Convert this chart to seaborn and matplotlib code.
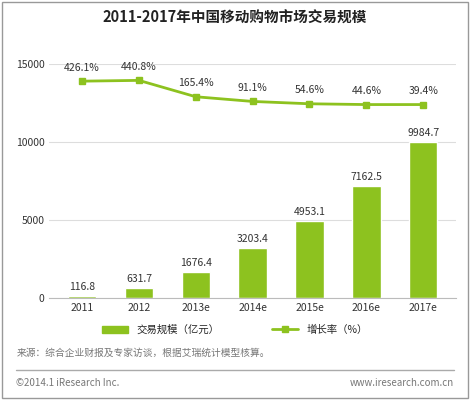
import matplotlib
matplotlib.use("Agg")
import matplotlib.pyplot as plt
import seaborn as sns
import pandas as pd
from matplotlib.lines import Line2D
from matplotlib.patches import Patch

years = ["2011", "2012", "2013e", "2014e", "2015e", "2016e", "2017e"]
scale = [116.8, 631.7, 1676.4, 3203.4, 4953.1, 7162.5, 9984.7]
growth = [426.1, 440.8, 165.4, 91.1, 54.6, 44.6, 39.4]
# approx. visual position of the growth line on the left axis
growth_pos = [13900, 13950, 12900, 12600, 12450, 12400, 12400]

sns.set_style("white")
plt.rcParams['font.family'] = ['Noto Sans CJK SC', 'DejaVu Sans']
green = "#8dc21f"

fig = plt.figure(figsize=(4.7, 4.0), dpi=100)
fig.patches.append(plt.Rectangle((0.005, 0.005), 0.99, 0.99, transform=fig.transFigure,
                                 fill=False, edgecolor="#999999", lw=1))
ax = fig.add_axes([0.105, 0.255, 0.865, 0.585])
df = pd.DataFrame({"year": years, "scale": scale})
sns.barplot(data=df, x="year", y="scale", color=green, width=0.5, ax=ax, saturation=1)
ax.plot(range(len(years)), growth_pos, color=green, lw=2, marker="s", markersize=5)
for i, (v, g, p) in enumerate(zip(scale, growth, growth_pos)):
    ax.text(i, v + 250, f"{v}", ha="center", va="bottom", fontsize=7.5, color="#333333")
    ax.text(i, p + 550, f"{g}%", ha="center", va="bottom", fontsize=7.5, color="#333333")
ax.set_ylim(0, 15000)
ax.set_yticks([0, 5000, 10000, 15000])
ax.yaxis.grid(True, color="#dddddd", lw=0.8)
ax.set_axisbelow(True)
for s in ["top", "right", "left"]:
    ax.spines[s].set_visible(False)
ax.spines["bottom"].set_color("#bbbbbb")
ax.set_xlabel("")
ax.set_ylabel("")
ax.tick_params(axis="both", labelsize=7.5, colors="#333333", length=0)

fig.text(0.5, 0.955, "2011-2017年中国移动购物市场交易规模", ha="center", va="center",
         fontsize=10.5, fontweight="bold", color="#222222")
handles = [Patch(color=green), Line2D([], [], color=green, lw=2, marker="s", markersize=5)]
fig.legend(handles, ["交易规模（亿元）", "增长率（%）"], loc="center", bbox_to_anchor=(0.5, 0.175),
           ncol=2, frameon=False, fontsize=7.5, columnspacing=5, handlelength=2.5)
fig.text(0.035, 0.11, "来源：综合企业财报及专家访谈，根据艾瑞统计模型核算。", fontsize=7, color="#777777")
fig.add_artist(Line2D([0.035, 0.965], [0.075, 0.075], color="#aaaaaa", lw=1))
fig.text(0.035, 0.035, "©2014.1 iResearch Inc.", fontsize=7, color="#777777")
fig.text(0.965, 0.035, "www.iresearch.com.cn", fontsize=7, color="#777777", ha="right")
fig.savefig("out.png", dpi=100)
